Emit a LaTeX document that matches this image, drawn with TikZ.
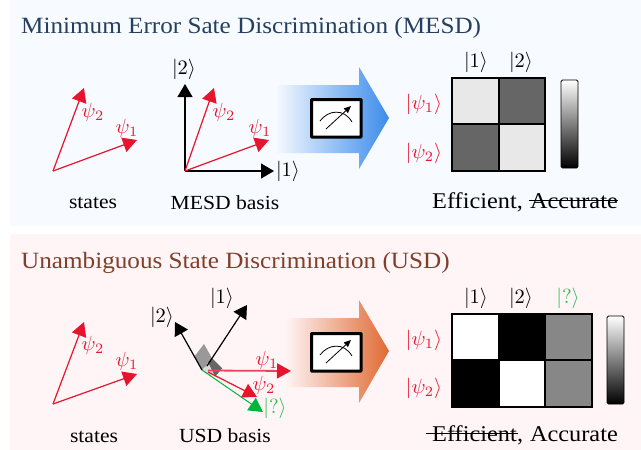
\documentclass[tikz,border=0pt]{standalone}
\usepackage[no-math]{fontspec}
\setmainfont[FakeStretch=1.08]{Liberation Serif}
\usetikzlibrary{arrows.meta,positioning,calc}
\definecolor{panelblue}{HTML}{F7FAFF}
\definecolor{panelred}{HTML}{FFF5F6}
\definecolor{titleblue}{HTML}{25405F}
\definecolor{titlered}{HTML}{7F3F2A}
\definecolor{vecred}{HTML}{E6142D}
\definecolor{vecgreen}{HTML}{00B43C}
\definecolor{lablgreen}{HTML}{2DBE50}
\definecolor{arrowblue}{HTML}{3C8CEB}
\definecolor{arroworange}{HTML}{E06A33}
\tikzset{
  redvec/.style={draw=vecred,line width=1.2pt,-{Triangle[length=14pt,width=15pt,fill=vecred,color=vecred]}},
  blackvec/.style={draw=black,line width=1.2pt,-{Triangle[length=13pt,width=15pt]}},
  greenvec/.style={draw=vecgreen,line width=1pt,-{Triangle[length=14pt,width=15pt]}},
  mathlab/.style={inner sep=0pt,scale=2.05,font=\fontsize{10}{12}\selectfont},
  redlab/.style={mathlab,text=vecred},
  titletext/.style={inner sep=0pt,anchor=base west,font=\fontsize{23.3}{26}\selectfont},
  captext/.style={inner sep=0pt,anchor=base,font=\fontsize{20}{22}\selectfont},
  sumtext/.style={inner sep=0pt,anchor=base,font=\fontsize{22.5}{24}\selectfont},
  strikeline/.style={line width=1.2pt,black},
  metertube/.style={draw=black,line width=3pt,fill=white,rounded corners=0.5pt},
  cell/.style={draw=black,line width=1.4pt},
  barstyle/.style={draw=black,line width=0.8pt,rounded corners=1.5pt,top color=white,bottom color=black},
}
\begin{document}
\begin{tikzpicture}[x=1pt,y=-1pt]
\useasboundingbox (0,0) rectangle (641,450);
\fill[white] (0,0) rectangle (641,450);
\fill[panelblue] (10,0) rectangle (641,226);
\fill[panelred] (10,234) rectangle (641,450);

% ---------- top panel
\node[titletext,text=titleblue] (t1) at (21,33) {Minimum Error Sate Discrimination (MESD)};

\coordinate (ao) at (53,171);
\coordinate (a1) at (137,140);
\coordinate (a2) at (84,88);
\draw[redvec] (ao) -- (a1);
\draw[redvec] (ao) -- (a2);
\node[redlab] (la1) at (127,128) {$\psi_1$};
\node[redlab] (la2) at (93,112) {$\psi_2$};
\node[captext] (ca) at (93,208.5) {states};

\shade[left color=panelblue,right color=arrowblue]
  (275,85) -- (359,85) -- (359,67) -- (389,118) -- (359,169) -- (359,153) -- (275,153) -- cycle;

\coordinate (bo) at (185,171);
\coordinate (bx) at (274,171);
\coordinate (by) at (185,84);
\coordinate (b1) at (269,140);
\coordinate (b2) at (214,88);
\draw[blackvec] (bo) -- (bx);
\draw[blackvec] (bo) -- (by);
\draw[redvec] (bo) -- (b1);
\draw[redvec] (bo) -- (b2);
\node[mathlab] (lbx) at (288,171) {$|1\rangle$};
\node[mathlab] (lby) at (184,69) {$|2\rangle$};
\node[redlab] (lb1) at (260,128) {$\psi_1$};
\node[redlab] (lb2) at (224,112) {$\psi_2$};
\node[captext] (cb) at (225,209) {MESD basis};

\draw[metertube] (311.5,99.5) rectangle (361,137);
\draw[line width=0.8pt] (320,121) .. controls (328,110) and (344,108) .. (352,122);
\draw[line width=0.8pt,-{Triangle[length=7pt,width=6pt]}] (326,129) -- (351,106);

\fill[black!9] (452,78) rectangle (499,124);
\fill[black!60] (499,78) rectangle (545,124);
\fill[black!60] (452,124) rectangle (499,171);
\fill[black!9] (499,124) rectangle (545,171);
\draw[cell] (452,78) rectangle (545,171);
\draw[cell] (499,78) -- (499,171);
\draw[cell] (452,124) -- (545,124);
\draw[barstyle] (561,80) rectangle (578,168);
\node[mathlab] (h1) at (476,62) {$|1\rangle$};
\node[mathlab] (h2) at (521,62) {$|2\rangle$};
\node[redlab] (r1) at (424,104) {$|\psi_1\rangle$};
\node[redlab] (r2) at (424,153) {$|\psi_2\rangle$};
\node[sumtext,anchor=base west] (e1) at (432,208) {Efficient,};
\node[sumtext,anchor=base east] (a1t) at (618,208) {Accurate};
\draw[strikeline] ($(a1t.west)+(-1,0)$) -- ($(a1t.east)+(0,0)$);

% ---------- bottom panel
\node[titletext,text=titlered] (t2) at (21,268) {Unambiguous State Discrimination (USD)};

\coordinate (co) at (53,404);
\coordinate (c1) at (137,374);
\coordinate (c2) at (84,322);
\draw[redvec] (co) -- (c1);
\draw[redvec] (co) -- (c2);
\node[redlab] (lc1) at (127,361) {$\psi_1$};
\node[redlab] (lc2) at (93,345) {$\psi_2$};
\node[captext] (cc) at (94,442) {states};

\shade[left color=panelred,right color=arroworange]
  (285,318) -- (359,318) -- (359,300) -- (389,351) -- (359,403) -- (359,387) -- (285,387) -- cycle;

\coordinate (do) at (202,370);
\coordinate (dp) at (207,366);
\coordinate (d1) at (247,305);
\coordinate (d2) at (175,322);
\coordinate (dq) at (263,412);
\coordinate (dr1) at (291,371);
\coordinate (dr2s) at (208,372);
\coordinate (dr1s) at (208,370.5);
\coordinate (dr2) at (257,397);
\fill[black!40] (194.3,356.7) -- (204,344) -- (211.7,357.7) -- (206.7,365.7) -- (do) -- cycle;
\fill[black!60] (208,362.5) -- (211.7,357.7) -- (222.3,368.3) -- (215,376.7) -- cycle;
\fill[black!14] (do) -- (206.7,365.7) -- (208,362.5) -- (215,376.7) -- (205,373) -- cycle;
\draw[blackvec] (dp) -- (d1);
\draw[blackvec] (do) -- (d2);
\draw[greenvec] (do) -- (dq);
\draw[redvec,draw=vecred!80,line width=1.8pt] (dr1s) -- (dr1);
\draw[redvec] (dr2s) -- (dr2);
\node[mathlab] (ld1) at (222,298) {$|1\rangle$};
\node[mathlab] (ld2) at (162,317) {$|2\rangle$};
\node[redlab] (ldr1) at (267,360) {$\psi_1$};
\node[redlab] (ldr2) at (264,385) {$\psi_2$};
\node[mathlab,text=lablgreen] (ldq) at (275,408) {$|?\rangle$};
\node[captext] (cd) at (225,442) {USD basis};

\draw[metertube] (311.5,333.5) rectangle (361,371);
\draw[line width=0.8pt] (320,355) .. controls (328,344) and (344,342) .. (352,356);
\draw[line width=0.8pt,-{Triangle[length=7pt,width=6pt]}] (326,363) -- (351,340);

\fill[white] (452,314) rectangle (499,360);
\fill[black] (499,314) rectangle (545,360);
\fill[black!47] (545,314) rectangle (592,360);
\fill[black] (452,360) rectangle (499,407);
\fill[white] (499,360) rectangle (545,407);
\fill[black!47] (545,360) rectangle (592,407);
\draw[cell] (452,314) rectangle (592,407);
\draw[cell] (499,314) -- (499,407);
\draw[cell] (545,314) -- (545,407);
\draw[cell] (452,360) -- (592,360);
\draw[barstyle] (607,316) rectangle (624,404);
\node[mathlab] (k1) at (476,298) {$|1\rangle$};
\node[mathlab] (k2) at (521,298) {$|2\rangle$};
\node[mathlab,text=lablgreen] (k3) at (568,298) {$|?\rangle$};
\node[redlab] (s1) at (424,340) {$|\psi_1\rangle$};
\node[redlab] (s2) at (424,388) {$|\psi_2\rangle$};
\node[sumtext,anchor=base west] (e2) at (432,441) {Efficient};
\node[sumtext,anchor=base west] (co2) at (e2.base east) {,};
\node[sumtext,anchor=base east] (a2t) at (618,441) {Accurate};
\draw[strikeline] ($(e2.west)+(-6,0)$) -- ($(e2.east)+(1,0)$);
\end{tikzpicture}
\end{document}
